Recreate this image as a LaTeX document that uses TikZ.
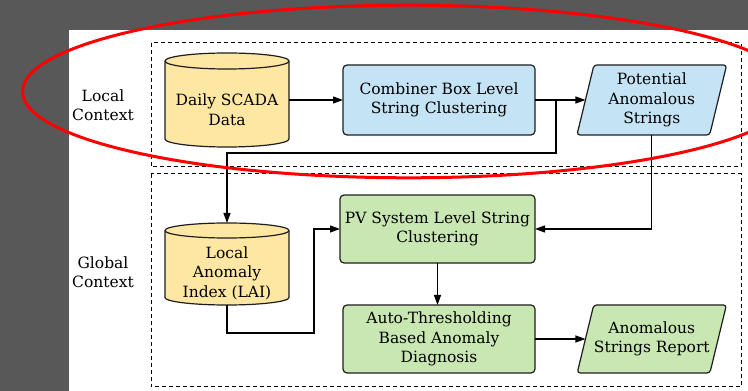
\documentclass[tikz,border=0pt]{standalone}
\usepackage{fontspec}
\setmainfont{DejaVu Serif}
\usetikzlibrary{arrows.meta,calc}

\definecolor{bgdark}{RGB}{88,88,88}
\definecolor{dbfill}{RGB}{253,231,162}
\definecolor{bluefill}{RGB}{196,228,245}
\definecolor{greenfill}{RGB}{201,231,178}
\definecolor{edge}{RGB}{30,30,30}
\definecolor{ringred}{RGB}{255,0,0}

% database cylinder drawn inside the bounding rectangle of node #1, cap radius #2
\newcommand{\dbcyl}[2]{%
  \filldraw[dbline] ([yshift=-#2pt]#1.north west) -- ([yshift=#2pt]#1.south west)
    arc[start angle=180,end angle=360,x radius=62pt,y radius=#2pt]
    -- ([yshift=-#2pt]#1.north east)
    arc[start angle=0,end angle=180,x radius=62pt,y radius=#2pt] -- cycle;
  \draw[dbline,fill=none] ([yshift=-#2pt]#1.north west)
    arc[start angle=180,end angle=360,x radius=62pt,y radius=#2pt];}

\begin{document}
\begin{tikzpicture}[x=1pt,y=1pt,
  font=\fontsize{15.5}{19.5}\selectfont,
  lbl/.style={align=center,inner sep=0pt,outer sep=0pt},
  proc/.style={draw=edge,line width=1.2pt,rounded corners=4pt,align=center,
    inner sep=0pt,outer sep=0pt},
  % slanted data box: a rectangle sheared by the node's own transform
  iobox/.style={rectangle,xslant=0.243,transform shape,draw=edge,line width=1.2pt,
    rounded corners=3pt,inner sep=0pt,outer sep=0pt,minimum width=132.7},
  dbbox/.style={rectangle,inner sep=0pt,outer sep=0pt,minimum width=124},
  dbline/.style={draw=edge,fill=dbfill,line width=1.2pt},
  conn/.style={line width=1.2pt,-{Triangle[length=10pt,width=7pt]}},
  region/.style={draw=black,line width=1pt,dash pattern=on 4pt off 3pt},
]
\clip (0,0) rectangle (748,391);
\fill[bgdark] (0,0) rectangle (748,391);
\fill[white] (69,0) rectangle (748,361);

% the two context regions
\draw[region] (151,348) rectangle (741,224);
\draw[region] (151,217) rectangle (741,4);
\node[lbl] (localtag) at (103,286) {Local\\Context};
\node[lbl] (globaltag) at (103,119) {Global\\Context};

% data stores
\node[dbbox,minimum height=94] (scada) at (227,291) {};
\dbcyl{scada}{8}
\node[lbl] (scadatext) at (227,281.5) {Daily SCADA\\Data};
\node[dbbox,minimum height=82] (lai) at (227,127) {};
\dbcyl{lai}{7.5}
\node[lbl] (laitext) at (227,118) {Local\\Anomaly\\Index (LAI)};

% processing steps
\node[proc,fill=bluefill,minimum width=192,minimum height=70] (comb) at (439,291)
  {Combiner Box Level\\String Clustering};
\begin{scope}[shift={(651.8,291)}]
  \node[iobox,fill=bluefill,minimum height=70] (pot) at (0,0) {};
\end{scope}
\node[lbl] (pottext) at (pot.center) {Potential\\Anomalous\\Strings};
\node[proc,fill=greenfill,minimum width=195,minimum height=68] (pv) at (437.5,162)
  {PV System Level String\\Clustering};
\node[proc,fill=greenfill,minimum width=192,minimum height=68] (thresh) at (439,52)
  {Auto-Thresholding\\Based Anomaly\\Diagnosis};
\begin{scope}[shift={(651.8,52)}]
  \node[iobox,fill=greenfill,minimum height=68] (report) at (0,0) {};
\end{scope}
\node[lbl] (reporttext) at (report.center) {Anomalous\\Strings Report};

% connectors
\draw[conn] (scada.east) -- (comb.west);
\draw[conn] (comb.east) -- (pot.west);
\coordinate (split) at ($(comb.east)+(21,0)$);
\draw[conn] (split) |- ($(lai.north)+(0,70)$) -- (lai.north);
\draw[conn] (lai.south) -- ++(0,-28) -| ($(pv.west)+(-26,0)$) -- (pv.west);
\draw[conn] (pot.south -| pot.center) |- (pv.east);
\draw[conn] (pv.south) -- (pv.south |- thresh.north);
\draw[conn] (thresh.east) -- (report.west);

% highlight ring round the local context
\draw[ringred,line width=3pt] (408.5,299.5) ellipse [x radius=386pt,y radius=86.3pt];
\end{tikzpicture}
\end{document}
